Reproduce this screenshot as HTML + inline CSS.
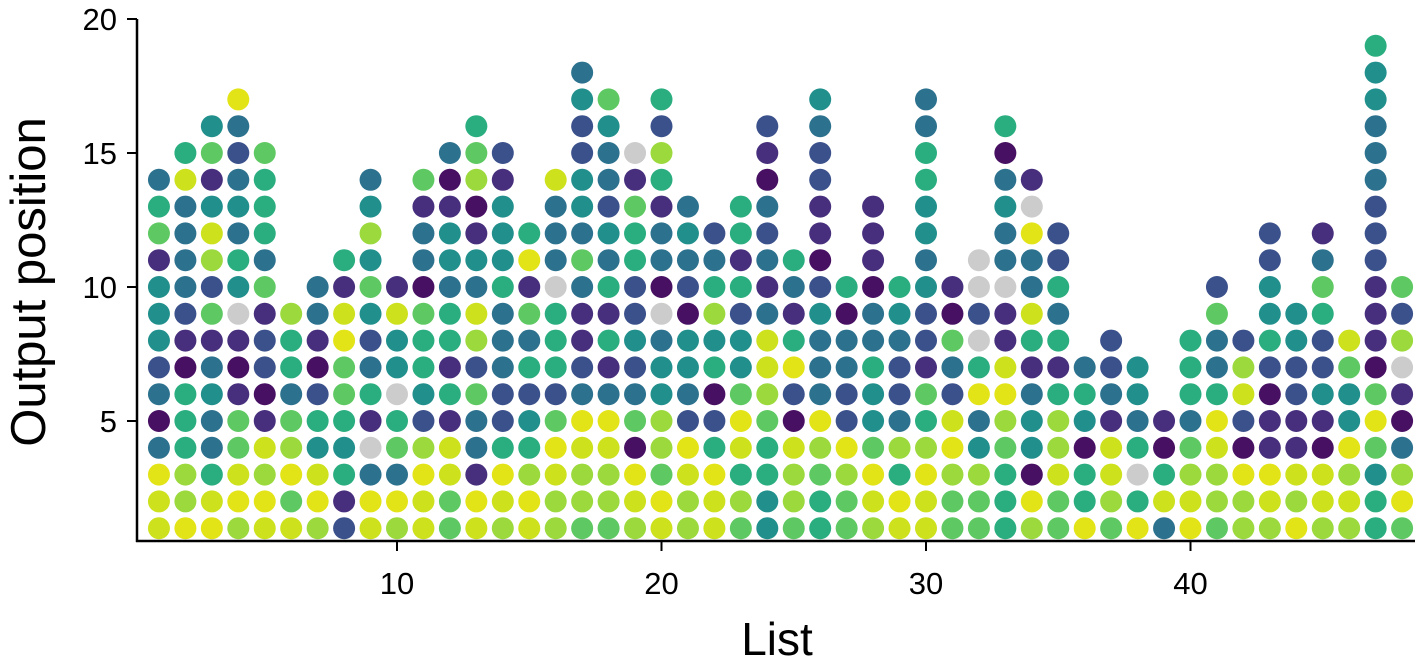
<!DOCTYPE html>
<html><head><meta charset="utf-8"><style>
html,body{margin:0;padding:0;background:#fff;}
svg{display:block;font-family:"Liberation Sans",sans-serif;}
</style></head><body>
<svg id="chart" width="1422" height="672" viewBox="0 0 1422 672"></svg>
<script>
// Columns = lists 1..48; each string is the dot color codes bottom-to-top (value level 0..9, g = gray)
const lists = [1,2,3,4,5,6,7,8,9,10,11,12,13,14,15,16,17,18,19,20,21,22,23,24,25,26,27,28,29,30,31,32,33,34,35,36,37,38,39,40,41,42,43,44,45,46,47,48];
const columnCodes = [
"88930324441653","977555012333385","9853343162784164","79866101g45343239","897810221635556",
"869763557","7984520133","21545669815","893g1532464743","79365g4481",
"88972455603316","668815155344103","8913362783410765","789522333544412","897542536195",
"778962555g3338","677893211363442243","67789315153423346","78906324225561g","89677443g03315725",
"7789234402343","889520547532","6758964425155","4455678831323012","67780295135",
"55679333420112234","6679223305","7896445330111","8957322345","88975612243445533",
"6679823601","6674395g2gg","555679811g334305","790443158339g1","668775153522",
"9550453","67881322","95g5344","38501","98763555",
"6778953362","77902872","789110254422","978112244","788014225631",
"78794468","5546960111222333445","697301g726"];
const xTicks = [10,20,30,40];
const yTicks = [5,10,15,20];
const palette = {"0":"#471063","1":"#472f7d","2":"#3b518b","3":"#2c728e","4":"#21908d","5":"#2aae80","6":"#5ec962","7":"#9bd93c","8":"#cde11d","9":"#e3e418","g":"#cccccc"};

const svg = document.getElementById('chart');
const NS = 'http://www.w3.org/2000/svg';
const X0 = 137, X1 = 1415, Y0 = 541, Y1 = 19;
const xScale = v => 397 + (v - 10) * 26.45;
const yScale = v => 287 - (v - 10) * 26.8;
function mk(tag, attrs){ const e = document.createElementNS(NS, tag); for (const k in attrs) e.setAttribute(k, attrs[k]); svg.appendChild(e); return e; }

columnCodes.forEach((codes, i) => {
  const list = lists[i];
  for (let j = 0; j < codes.length; j++) {
    const c = mk('circle', {cx: xScale(list), cy: yScale(j + 1), r: 11, fill: palette[codes[j]]});
    
    
  }
});

const ya = mk('line', {x1: X0, y1: Y1, x2: X0, y2: Y0 + 1, stroke: '#000', 'stroke-width': 2.5});


const xa = mk('line', {x1: X0 - 1, y1: Y0, x2: X1, y2: Y0, stroke: '#000', 'stroke-width': 2.5});



yTicks.forEach(v => {
  const y = yScale(v);
  const t = mk('line', {x1: X0 - 10, y1: y, x2: X0, y2: y, stroke: '#000', 'stroke-width': 2});
  
  
  const l = mk('text', {x: X0 - 20, y: y + 11, 'text-anchor': 'end', 'font-size': 31, fill: '#000'});
  l.textContent = v;
  
  
});
xTicks.forEach(v => {
  const x = xScale(v);
  const t = mk('line', {x1: x, y1: Y0, x2: x, y2: Y0 + 10, stroke: '#000', 'stroke-width': 2});
  
  
  const l = mk('text', {x: x, y: 594, 'text-anchor': 'middle', 'font-size': 31, fill: '#000'});
  l.textContent = v;
  
  
});

const xt = mk('text', {x: 777, y: 655, 'text-anchor': 'middle', 'font-size': 46, fill: '#000'});
xt.textContent = 'List';


const yt = mk('text', {x: 0, y: 0, 'text-anchor': 'middle', 'font-size': 49, fill: '#000', transform: 'translate(45,282) rotate(-90)'});
yt.textContent = 'Output position';


</script>
</body></html>
